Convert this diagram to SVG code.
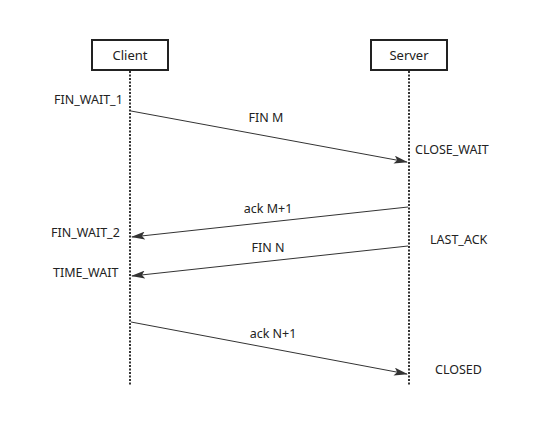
<svg xmlns="http://www.w3.org/2000/svg" width="540" height="426" viewBox="0 0 540 426">
<defs>
<marker id="ah" viewBox="0 0 14 8" refX="13" refY="4" markerWidth="14" markerHeight="8" markerUnits="userSpaceOnUse" orient="auto">
<path d="M0,0 L14,4 L0,8 L3,4 Z" fill="#333"/>
</marker>
<style>
text{font-family:"Noto Sans","Open Sans",sans-serif;font-size:12.5px;fill:#222}
.title{font-size:13px}
.box{fill:#fff;stroke:#222;stroke-width:2}
.life{stroke:#333;stroke-width:2;stroke-dasharray:2 1.5}
.msg{stroke:#333;stroke-width:1;fill:none;marker-end:url(#ah)}
</style>
</defs>
<rect width="540" height="426" fill="#fff"/>
<g id="lifelines">
<line class="life" x1="130" y1="71" x2="130" y2="386"/>
<line class="life" x1="409" y1="71" x2="409" y2="386"/>
</g>
<g id="client">
<rect class="box" x="92" y="40" width="76" height="30"/>
<text class="title" x="130" y="60" text-anchor="middle">Client</text>
</g>
<g id="server">
<rect class="box" x="371" y="40" width="76" height="30"/>
<text class="title" x="409" y="60" text-anchor="middle">Server</text>
</g>
<g id="connectors">
<line class="msg" x1="131" y1="111" x2="407" y2="162"/>
<line class="msg" x1="408" y1="207" x2="132" y2="237"/>
<line class="msg" x1="408" y1="246" x2="132" y2="276"/>
<line class="msg" x1="131" y1="322" x2="407" y2="374"/>
</g>
<g id="labels">
<text x="266" y="122" text-anchor="middle">FIN M</text>
<text x="268" y="213" text-anchor="middle">ack M+1</text>
<text x="268" y="252" text-anchor="middle">FIN N</text>
<text x="273" y="338" text-anchor="middle">ack N+1</text>
<text x="54" y="104">FIN_WAIT_1</text>
<text x="415" y="154">CLOSE_WAIT</text>
<text x="51" y="237">FIN_WAIT_2</text>
<text x="430" y="244">LAST_ACK</text>
<text x="53" y="277">TIME_WAIT</text>
<text x="435" y="374">CLOSED</text>
</g>
</svg>
